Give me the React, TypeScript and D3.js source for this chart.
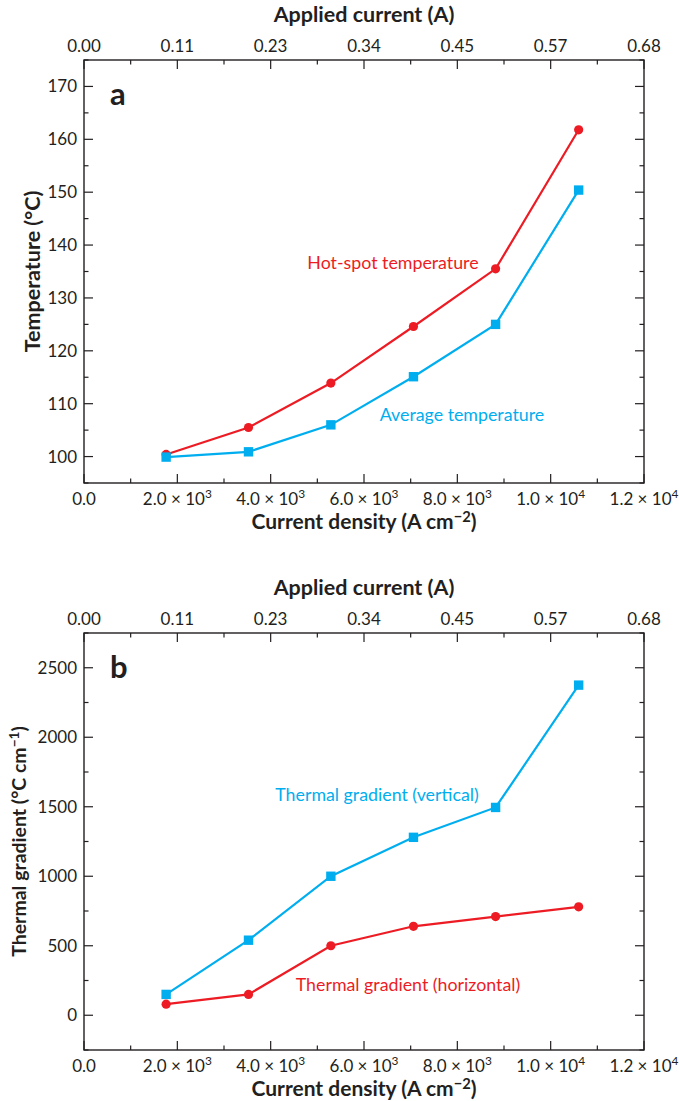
import React, { useEffect, useRef } from "react";
import * as d3 from "d3";

// current density (A cm^-2) at the six measured points (0.1 ... 0.6 A)
const densities = [1760, 3525, 5290, 7060, 8820, 10600];

// panel a: temperature (°C)
const hotSpotTemp = [100.4, 105.5, 113.9, 124.6, 135.5, 161.8];
const averageTemp = [99.9, 100.9, 106.0, 115.1, 125.0, 150.4];

// panel b: thermal gradient (°C cm^-1)
const gradVertical = [150, 540, 1000, 1280, 1495, 2375];
const gradHorizontal = [80, 150, 500, 640, 710, 780];

const xTicks = [0, 2000, 4000, 6000, 8000, 10000, 12000];
const xTickLabels = ["0.0", "2.0 × 10^3", "4.0 × 10^3", "6.0 × 10^3", "8.0 × 10^3", "1.0 × 10^4", "1.2 × 10^4"];
const topTickLabels = ["0.00", "0.11", "0.23", "0.34", "0.45", "0.57", "0.68"];
const tempTicks = [100, 110, 120, 130, 140, 150, 160, 170];
const gradTicks = [0, 500, 1000, 1500, 2000, 2500];

const RED = "#ED1C24";
const BLUE = "#00AEEF";
const INK = "#231F20";
const FONT = "Lato, 'Open Sans', sans-serif";
const TICK_SIZE = 17;

// writes "base^sup" style strings into a text element with a raised tspan
function supText(sel: any, str: string, tail = "") {
  const [base, sup] = str.split("^");
  sel.append("tspan").text(base);
  if (sup !== undefined) {
    sel.append("tspan").attr("dy", -7).attr("font-size", "0.7em").text(sup);
    if (tail) sel.append("tspan").attr("dy", 7).text(tail);
  }
}

function drawPanel(svg: any, cfg: any) {
  const { top, bottom, yDomain, yTicks, yMinorStep, series, letter, yTitle, notes } = cfg;
  const left = 84, right = 644;
  const x = d3.scaleLinear().domain([0, 12000]).range([left, right]);
  const y = d3.scaleLinear().domain(yDomain).range([bottom, top]);
  const g = svg.append("g");

  // frame
  g.append("rect").attr("x", left).attr("y", top).attr("width", right - left).attr("height", bottom - top)
    .attr("fill", "none").attr("stroke", INK).attr("stroke-width", 1.4);

  // x ticks (bottom and top, inward)
  const xMinor = d3.range(0, 12001, 1000);
  xMinor.forEach((v) => {
    const major = v % 2000 === 0;
    const len = major ? 9 : 4.5;
    g.append("line").attr("x1", x(v)).attr("x2", x(v)).attr("y1", bottom).attr("y2", bottom - len).attr("stroke", INK).attr("stroke-width", 1.2);
    g.append("line").attr("x1", x(v)).attr("x2", x(v)).attr("y1", top).attr("y2", top + len).attr("stroke", INK).attr("stroke-width", 1.2);
  });

  // y ticks (left and right, inward)
  const [y0, y1] = yDomain;
  const yMinor = d3.range(Math.ceil(y0 / yMinorStep) * yMinorStep, y1 + 0.001, yMinorStep);
  yMinor.forEach((v: number) => {
    const major = yTicks.includes(v);
    const len = major ? 9 : 4.5;
    g.append("line").attr("x1", left).attr("x2", left + len).attr("y1", y(v)).attr("y2", y(v)).attr("stroke", INK).attr("stroke-width", 1.2);
    g.append("line").attr("x1", right).attr("x2", right - len).attr("y1", y(v)).attr("y2", y(v)).attr("stroke", INK).attr("stroke-width", 1.2);
  });

  // tick labels
  g.selectAll(".ylab").data(yTicks).join("text")
    .attr("x", left - 7).attr("y", (d: number) => y(d) + 6)
    .attr("text-anchor", "end").attr("font-size", TICK_SIZE).attr("fill", INK).attr("font-family", FONT)
    .text((d: number) => d);

  xTicks.forEach((v, i) => {
    const t = g.append("text").attr("x", x(v)).attr("y", bottom + 22)
      .attr("text-anchor", "middle").attr("font-size", TICK_SIZE).attr("fill", INK).attr("font-family", FONT);
    supText(t, xTickLabels[i]);
    g.append("text").attr("x", x(v)).attr("y", top - 8)
      .attr("text-anchor", "middle").attr("font-size", TICK_SIZE).attr("fill", INK).attr("font-family", FONT)
      .text(topTickLabels[i]);
  });

  // axis titles
  g.append("text").attr("x", (left + right) / 2).attr("y", top - 38)
    .attr("text-anchor", "middle").attr("font-size", 21.5).attr("font-weight", "bold").attr("fill", INK).attr("font-family", FONT)
    .text("Applied current (A)");
  const xt = g.append("text").attr("x", (left + right) / 2).attr("y", bottom + 46)
    .attr("text-anchor", "middle").attr("font-size", 21).attr("font-weight", "bold").attr("fill", INK).attr("font-family", FONT);
  supText(xt, "Current density (A cm^−2", ")");

  const yt = g.append("text")
    .attr("transform", `translate(${yTitle.x}, ${(top + bottom) / 2}) rotate(-90)`)
    .attr("text-anchor", "middle").attr("font-size", yTitle.size).attr("font-weight", "bold").attr("fill", INK).attr("font-family", FONT);
  supText(yt, yTitle.text, yTitle.tail);

  g.append("text").attr("x", 110).attr("y", top + 45).attr("font-size", 31).attr("font-weight", "bold")
    .attr("fill", INK).attr("font-family", FONT).text(letter);

  // series
  const line = d3.line<number>().x((d, i) => x(densities[i])).y((d) => y(d));
  series.forEach((s: any) => {
    g.append("path").attr("d", line(s.values)).attr("fill", "none").attr("stroke", s.color).attr("stroke-width", 2.2);
    if (s.marker === "circle") {
      g.selectAll(null).data(s.values).join("circle")
        .attr("cx", (d: number, i: number) => x(densities[i])).attr("cy", (d: number) => y(d)).attr("r", 4.6).attr("fill", s.color);
    } else {
      g.selectAll(null).data(s.values).join("rect")
        .attr("x", (d: number, i: number) => x(densities[i]) - 4.7).attr("y", (d: number) => y(d) - 4.7)
        .attr("width", 9.4).attr("height", 9.4).attr("fill", s.color);
    }
  });

  notes.forEach((n: any) => {
    g.append("text").attr("x", n.x).attr("y", n.y).attr("text-anchor", "middle").attr("font-size", 17.8)
      .attr("fill", n.color).attr("font-family", FONT).text(n.text);
  });
}

export default function App() {
  const ref = useRef<SVGSVGElement>(null);

  useEffect(() => {
    const svg = d3.select(ref.current);
    svg.selectAll("*").remove();

    drawPanel(svg, {
      top: 60, bottom: 483, yDomain: [95, 175], yTicks: tempTicks, yMinorStep: 5, letter: "a",
      yTitle: { x: 40, text: "Temperature (°C)", tail: "", size: 21.5 },
      series: [
        { values: hotSpotTemp, color: RED, marker: "circle" },
        { values: averageTemp, color: BLUE, marker: "square" },
      ],
      notes: [
        { text: "Hot-spot temperature", x: 393, y: 269, color: RED },
        { text: "Average temperature", x: 462, y: 421, color: BLUE },
      ],
    });

    drawPanel(svg, {
      top: 633, bottom: 1050, yDomain: [-250, 2750], yTicks: gradTicks, yMinorStep: 250, letter: "b",
      yTitle: { x: 26, text: "Thermal gradient (°C cm^−1", tail: ")", size: 19.5 },
      series: [
        { values: gradHorizontal, color: RED, marker: "circle" },
        { values: gradVertical, color: BLUE, marker: "square" },
      ],
      notes: [
        { text: "Thermal gradient (vertical)", x: 377, y: 801, color: BLUE },
        { text: "Thermal gradient (horizontal)", x: 408, y: 991, color: RED },
      ],
    });
  }, []);

  return (
    <svg ref={ref} width={679} height={1101}
      style={{ position: "absolute", left: 0, top: 0, background: "#fff" }} />
  );
}
